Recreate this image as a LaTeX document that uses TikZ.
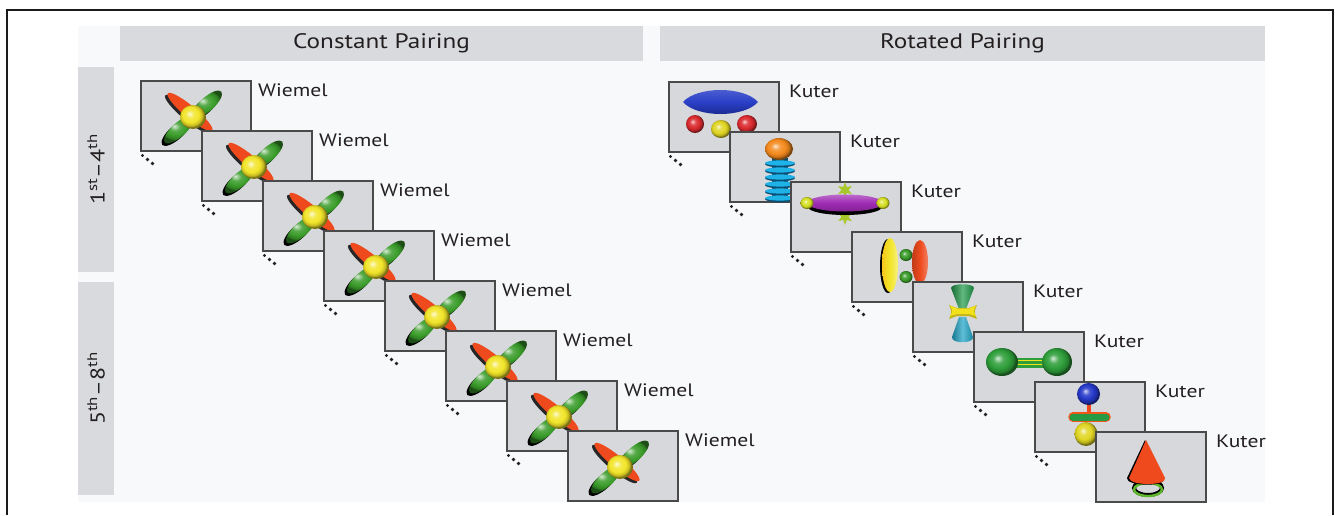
\documentclass[tikz,border=0pt]{standalone}
\usepackage{fontspec}
\setmainfont{PT Sans}[FakeStretch=1.2]
\usetikzlibrary{calc}

\definecolor{ink}{HTML}{231F20}
\definecolor{rulecol}{HTML}{1A1A1A}
\definecolor{panel}{HTML}{F8F9FB}
\definecolor{barfill}{HTML}{D9DADD}
\definecolor{shotfill}{HTML}{D7D8DB}
\definecolor{shotedge}{HTML}{4A4A4A}
\definecolor{armred}{HTML}{EE4A1E}
\definecolor{armgreen}{HTML}{3A9C2A}
\definecolor{sphyellow}{HTML}{F2E52A}
\definecolor{lensblue}{HTML}{2A40C8}
\definecolor{lensdark}{HTML}{16237E}
\definecolor{ballred}{HTML}{DA2A2E}
\definecolor{ballorange}{HTML}{F48A1E}
\definecolor{ribcyan}{HTML}{1EB2E6}
\definecolor{ribdark}{HTML}{0B4D73}
\definecolor{discpurple}{HTML}{A02BB4}
\definecolor{limeball}{HTML}{D6E023}
\definecolor{stargreen}{HTML}{A8C82A}
\definecolor{conegreen}{HTML}{1E9A48}
\definecolor{conecyan}{HTML}{1AA3C6}
\definecolor{bowyellow}{HTML}{F2E21E}
\definecolor{rodgreen}{HTML}{2E9E3A}
\definecolor{ballblue}{HTML}{2438C8}
\definecolor{ringgreen}{HTML}{5CB82A}

% glossy sphere shading that follows a chosen colour
\colorlet{glosscol}{black}
\pgfdeclareradialshading[glosscol]{glossball}{\pgfpoint{-7bp}{7bp}}{%
  color(0bp)=(glosscol!20!white); color(8bp)=(glosscol!85!white);
  color(16bp)=(glosscol); color(22bp)=(glosscol!80!black);
  color(25bp)=(glosscol!50!black); color(50bp)=(glosscol!50!black)}

\tikzset{
  gloss/.style={/utils/exec={\colorlet{glosscol}{#1}}, shading=glossball},
  shot/.style={draw=shotedge, line width=1.3pt, fill=shotfill, minimum width=110pt,
    minimum height=70pt, inner sep=0pt, outer sep=0pt, anchor=north west},
  lbl/.style={anchor=base west, inner sep=0pt, text=ink, font=\fontsize{18}{18}\selectfont},
  headbar/.style={fill=barfill, inner sep=0pt, minimum height=35pt, text=ink,
    font=\fontsize{21}{21}\selectfont},
  rowbar/.style={fill=barfill, inner sep=0pt, minimum width=36pt},
  rowlbl/.style={rotate=90, inner sep=0pt, text=ink, font=\fontsize{20}{20}\selectfont},
  dot/.style={fill=ink},
  % the crossed ellipsoids
  wiemel/.pic={
    \begin{scope}[shift={(46.5,33)},rotate=-40]
      \fill[black!85] (0,0) ellipse[x radius=29pt,y radius=6pt];
    \end{scope}
    \begin{scope}[shift={(49,31)},rotate=-40]
      \fill[armred] (0,0) ellipse[x radius=29pt,y radius=6pt];
    \end{scope}
    \begin{scope}[shift={(49.5,38.5)},rotate=42]
      \fill[black] (19,0) ellipse[x radius=19pt,y radius=7pt];
      \fill[black] (-19,0) ellipse[x radius=19pt,y radius=7pt];
    \end{scope}
    \begin{scope}[shift={(52,36)},rotate=42]
      \shade[gloss=armgreen] (19,0) ellipse[x radius=19pt,y radius=7pt];
      \shade[gloss=armgreen] (-19,0) ellipse[x radius=19pt,y radius=7pt];
    \end{scope}
    \shade[gloss=sphyellow] (52,36) ellipse[x radius=13pt,y radius=12pt];
  },
  % lens above three balls
  kuterA/.pic={
    \shade[gloss=ballred] (26,42) ellipse[x radius=9pt,y radius=9pt];
    \shade[gloss=ballred] (78,42) ellipse[x radius=10pt,y radius=9pt];
    \shade[gloss=sphyellow!85!olive] (52,47) ellipse[x radius=10pt,y radius=9pt];
    \shade[top color=lensblue!80!white, bottom color=lensdark, middle color=lensblue]
      (14,20) .. controls (28,4) and (75,4) .. (89,20)
      .. controls (75,36) and (28,36) .. (14,20) -- cycle;
  },
  % ribbed column under a ball
  kuterB/.pic={
    \fill[ribdark] (42,26) rectangle (58,69);
    \foreach \yy in {31,38,45,52,59,66}{
      \fill[ribdark] (50,\yy+1) ellipse[x radius=15pt,y radius=3.3pt];
      \fill[ribcyan] (50,\yy) ellipse[x radius=15pt,y radius=2.6pt];
    }
    \shade[gloss=ballorange] (49,17) ellipse[x radius=14pt,y radius=11pt];
  },
  % flat disc with stars and end balls
  kuterC/.pic={
    \foreach \sy in {8,35}{
      \fill[stargreen, shift={(54,\sy)}] (90:8pt) -- (120:3.5pt) -- (150:8pt) -- (180:3.5pt)
        -- (210:8pt) -- (240:3.5pt) -- (270:8pt) -- (300:3.5pt) -- (330:8pt) -- (0:3.5pt)
        -- (30:8pt) -- (60:3.5pt) -- cycle;
    }
    \fill[black] (54,25) ellipse[x radius=37pt,y radius=8pt];
    \shade[top color=discpurple!70!white, bottom color=discpurple!80!black, middle color=discpurple]
      (54,21) ellipse[x radius=38pt,y radius=8.5pt];
    \shade[gloss=limeball] (16,21) ellipse[x radius=6.5pt,y radius=6pt];
    \shade[gloss=limeball] (92,21) ellipse[x radius=6.5pt,y radius=6pt];
  },
  % two upright ellipsoids joined by balls
  kuterD/.pic={
    \fill[black] (36,34) ellipse[x radius=8pt,y radius=27pt];
    \shade[left color=sphyellow!70!orange, right color=sphyellow!60!white, middle color=sphyellow]
      (38,33) ellipse[x radius=8pt,y radius=27pt];
    \shade[gloss=armgreen] (54,23) ellipse[x radius=6.5pt,y radius=6pt];
    \shade[gloss=armgreen] (54,45) ellipse[x radius=6.5pt,y radius=6pt];
    \shade[left color=armred!80!black, right color=armred!70!white, middle color=armred]
      (68,30) ellipse[x radius=8pt,y radius=22pt];
  },
  % two cones with a bow tie
  kuterE/.pic={
    \shade[left color=conegreen!70!black, right color=conegreen!80!black, middle color=conegreen!70!white]
      (38,6) .. controls (38,1) and (61,1) .. (61,6) -- (53,27) -- (46,27) -- cycle;
    \shade[left color=conecyan!70!black, right color=conecyan!80!black, middle color=conecyan!70!white]
      (46,35) -- (53,35) -- (60,55) .. controls (61,62) and (38,62) .. (39,55) -- cycle;
    \fill[bowyellow!80!black] (36,23) -- (44,26) -- (56,26) -- (64,23)
      .. controls (61,30) .. (64,37) -- (56,34) -- (44,34) -- (36,37)
      .. controls (39,30) .. (36,23) -- cycle;
    \fill[bowyellow] (37,23.5) -- (44,26.5) -- (56,26.5) -- (63,23.5)
      .. controls (60,29) .. (63,34) -- (56,32) -- (44,32) -- (37,34)
      .. controls (40,29) .. (37,23.5) -- cycle;
  },
  % dumbbell
  kuterF/.pic={
    \fill[rodgreen] (28,25.5) rectangle (83,35.5);
    \draw[bowyellow, line width=1.6pt] (30,28.5) -- (81,28.5) (30,32.5) -- (81,32.5);
    \shade[gloss=rodgreen] (28,30) ellipse[x radius=16pt,y radius=14pt];
    \shade[gloss=rodgreen] (83,30) ellipse[x radius=15pt,y radius=14pt];
  },
  % two balls with a bar between
  kuterG/.pic={
    \fill[armred] (51.5,18) rectangle (55.5,32);
    \draw[armred!80!orange, line width=9.5pt, line cap=round] (38,35) -- (71,35);
    \draw[rodgreen!85!teal, line width=7pt, line cap=round] (38,35) -- (71,35);
    \shade[gloss=ballblue] (53.5,12) ellipse[x radius=11.5pt,y radius=11pt];
    \shade[gloss=sphyellow!85!olive] (51,52) ellipse[x radius=11.5pt,y radius=12pt];
  },
  % cone over a ring
  kuterH/.pic={
    \draw[black, line width=4pt] (52,56) ellipse[x radius=14pt,y radius=7pt];
    \draw[ringgreen, line width=2.4pt] (52,57.5) ellipse[x radius=14pt,y radius=6.5pt];
    \fill[black] (49,8) -- (31,46) .. controls (30,54) and (66,55) .. (68,48) -- cycle;
    \fill[armred] (50,8) -- (69,46) .. controls (71,54) and (34,54) .. (33,46) -- cycle;
  },
}

\newcommand\kutershot[2]{%
  \node[shot] (r#1) at ({669+61*#1},{82+50*#1}) {};
  \pic at (r#1.north west) {#2};
  \node[lbl] (rk#1) at ([xshift=10pt,yshift=-15.5pt]r#1.north east) {Kuter};
}

\begin{document}
\begin{tikzpicture}[x=1pt,y=-1pt]
  \useasboundingbox (0,0) rectangle (1335,515);
  \fill[white] (0,0) rectangle (1335,515);
  % outer rule
  \draw[rulecol, line width=2pt] (7,515) -- (7,10) -- (1333,10) -- (1333,515);
  % panel background
  \fill[panel] (78,26) rectangle (1265,502);

  % column headers
  \node[headbar, minimum width=523pt] (hconst) at (381.5,43.5) {Constant Pairing};
  \node[headbar, minimum width=605pt] (hrot) at (962.5,43.5) {Rotated Pairing};

  % row headers
  \node[rowbar, minimum height=205pt] (rowA) at (96,169.5) {};
  \node[rowbar, minimum height=213pt] (rowB) at (96,388.5) {};
  \node[rowlbl] (rowAtext) at (rowA) {1\textsuperscript{st}–4\textsuperscript{th}};
  \node[rowlbl] (rowBtext) at (rowB) {5\textsuperscript{th}–8\textsuperscript{th}};

  % constant pairing sequence
  \foreach \i in {0,...,7}{
    \node[shot] (c\i) at ({141+61*\i},{81+50*\i}) {};
    \pic at (c\i.north west) {wiemel};
    \node[lbl] (cw\i) at ([xshift=7pt,yshift=-15.5pt]c\i.north east) {Wiemel};
  }

  % rotated pairing sequence
  \kutershot{0}{kuterA}
  \kutershot{1}{kuterB}
  \kutershot{2}{kuterC}
  \kutershot{3}{kuterD}
  \kutershot{4}{kuterE}
  \kutershot{5}{kuterF}
  \kutershot{6}{kuterG}
  \kutershot{7}{kuterH}

  % ellipses under each screen
  \foreach \n in {c,r}{
    \foreach \i in {0,...,6}{
      \fill[dot] ([shift={(1.5pt,-4.5pt)}]\n\i.south west) circle[radius=1.6pt]
                 ([shift={(6.5pt,-8.5pt)}]\n\i.south west) circle[radius=1.8pt]
                 ([shift={(11.5pt,-12.5pt)}]\n\i.south west) circle[radius=1.8pt];
    }
  }
\end{tikzpicture}
\end{document}
